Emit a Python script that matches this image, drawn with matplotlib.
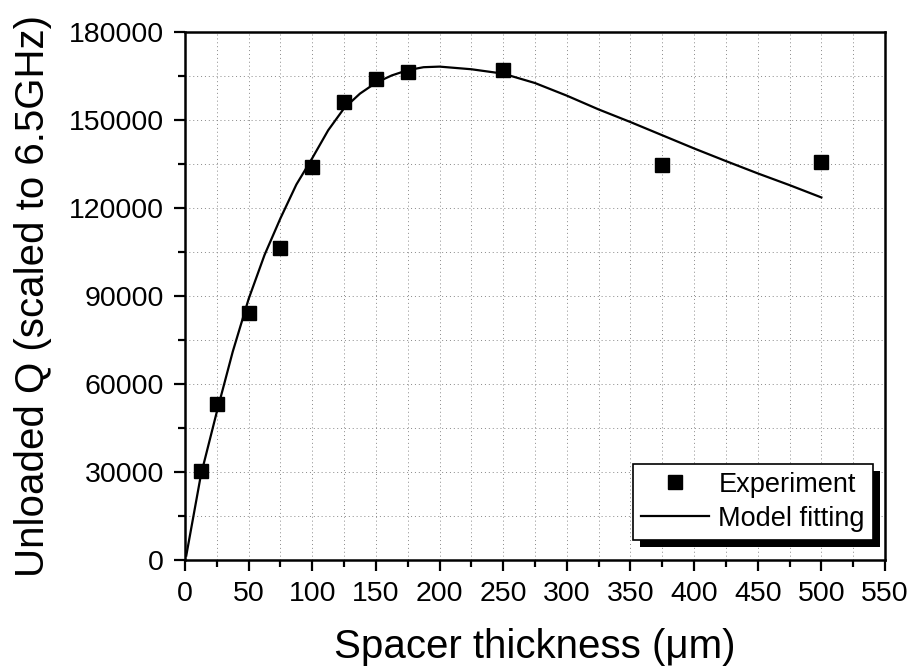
import matplotlib
matplotlib.use('Agg')
import matplotlib.pyplot as plt
from matplotlib.patches import Rectangle
from matplotlib.ticker import MultipleLocator

plt.rcParams['font.family'] = ['Liberation Sans', 'DejaVu Sans']

# measured points
exp_x = [12.5, 25, 50, 75, 100, 125, 150, 175, 250, 375, 500]
exp_y = [30300, 53300, 84200, 106500, 134000, 156000, 164000, 166300, 167000, 134600, 135800]

# model curve
fit_x = [1, 12.5, 25, 37.5, 50, 62.5, 75, 87.5, 100, 112.5, 125, 137.5, 150, 162.5, 175,
         187.5, 200, 225, 250, 275, 300, 325, 350, 375, 400, 425, 450, 475, 500]
fit_y = [1500, 29000, 50500, 71000, 89000, 104000, 116500, 128000, 137000, 146500, 154000,
         159000, 162700, 165200, 167000, 168000, 168200, 167300, 165800, 162600, 158300,
         153600, 149300, 144800, 140300, 136000, 131800, 127800, 123600]

fig = plt.figure(figsize=(9.18, 6.72), dpi=100)
ax = fig.add_axes([185/918, 1 - 560/672, 700/918, 528/672])

ax.plot(fit_x, fit_y, color='black', lw=1.6, label='Model fitting', zorder=3)
ax.plot(exp_x, exp_y, 's', color='black', ms=9.5, label='Experiment', zorder=4)

ax.set_xlim(0, 550)
ax.set_ylim(0, 180000)
ax.xaxis.set_major_locator(MultipleLocator(50))
ax.xaxis.set_minor_locator(MultipleLocator(25))
ax.yaxis.set_major_locator(MultipleLocator(30000))
ax.yaxis.set_minor_locator(MultipleLocator(15000))

ax.grid(which='both', color='#888888', linestyle=(0, (1, 3)), lw=0.7)
ax.set_axisbelow(True)

for s in ax.spines.values():
    s.set_linewidth(1.8)
ax.tick_params(which='major', direction='out', length=8, width=1.6, labelsize=20.5, pad=7)
ax.tick_params(which='minor', direction='out', length=5, width=1.6)

ax.set_xlabel('Spacer thickness (μm)', fontsize=29, labelpad=15)
ax.set_ylabel('Unloaded Q (scaled to 6.5GHz)', fontsize=29, labelpad=12)

h, l = ax.get_legend_handles_labels()
leg = ax.legend(h[::-1], l[::-1], loc='lower right', bbox_to_anchor=(0.983, 0.038),
                fontsize=19.5, frameon=True, fancybox=False, edgecolor='black',
                framealpha=1, handlelength=2.5, handletextpad=0.35, labelspacing=0.3,
                borderpad=0.3, borderaxespad=0)
leg.get_frame().set_linewidth(1.2)
leg.set_zorder(6)

# black drop shadow behind the legend box
fig.canvas.draw()
bb = leg.get_window_extent()
shadow = Rectangle((bb.x0 + 7, bb.y0 - 7), bb.width, bb.height, transform=None,
                   facecolor='black', edgecolor='none', zorder=5.5, clip_on=False)
ax.add_artist(shadow)

fig.savefig('out.png', dpi=100)
